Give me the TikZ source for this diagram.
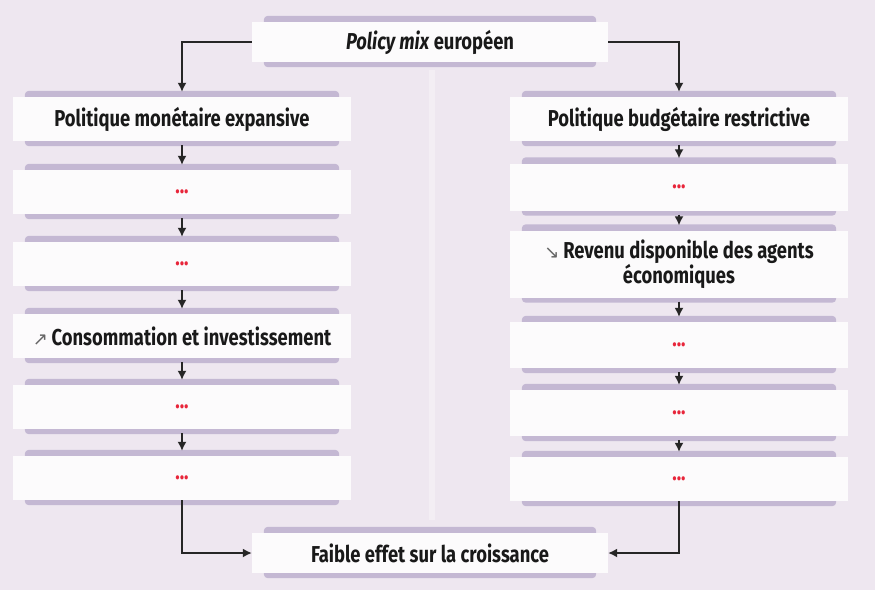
\documentclass[tikz,border=0pt]{standalone}
\usepackage{fontspec}
\setmainfont{Fira Sans}[FakeStretch=0.8]
\newfontfamily\arrowfont{DejaVu Sans}
\usetikzlibrary{calc,backgrounds,arrows.meta}
\definecolor{bgc}{HTML}{EEE7F0}
\definecolor{stripc}{HTML}{C4B8D3}
\definecolor{dotc}{HTML}{E8253A}
\definecolor{boxc}{HTML}{FCFBFC}
\tikzset{
	% white boxes of the chart, a purple strip is drawn behind each of them
	flow box/.style={fill=boxc,minimum width=338pt,minimum height=44pt,inner sep=2pt,align=center,
		font=\fontsize{23}{25}\selectfont\bfseries,text=black!90},
	wide box/.style={flow box,minimum width=356pt,minimum height=40pt},
	flow arrow/.style={draw=black!85,line width=1.5pt,-{Latex[length=9pt,width=9pt]},shorten >=5pt}
}
\newcommand{\etc}{\textcolor{dotc}{...}}
\newcommand{\up}{{\arrowfont\mdseries\fontsize{18}{18}\selectfont\color{black!60}↗}}
\newcommand{\down}{{\arrowfont\mdseries\fontsize{18}{18}\selectfont\color{black!60}↘}}

\begin{document}
\begin{tikzpicture}[x=1pt,y=-1pt]
	\useasboundingbox (0,0) rectangle (875,590);
	
	% top and bottom boxes
	\node(top)[wide box] at (430,42) {\textit{Policy mix} européen};
	\node(bot)[wide box] at (430,553) {Faible effet sur la croissance};
	
	% left column
	\node(l1)[flow box] at (182,119) {Politique monétaire expansive};
	\node(l2)[flow box] at (182,192) {\etc};
	\node(l3)[flow box] at (182,264) {\etc};
	\node(l4)[flow box] at (182,336) {\up\,Consommation et investissement};
	\node(l5)[flow box] at (182,407) {\etc};
	\node(l6)[flow box] at (182,478) {\etc};
	
	% right column
	\node(r1)[flow box] at (679,119) {Politique budgétaire restrictive};
	\node(r2)[flow box,minimum height=47pt] at (679,187) {\etc};
	\node(r3)[flow box,minimum height=67pt] at (679,264) {\down\,Revenu disponible des agents\\économiques};
	\node(r4)[flow box,minimum height=46pt] at (679,345) {\etc};
	\node(r5)[flow box,minimum height=46pt] at (679,413) {\etc};
	\node(r6)[flow box] at (679,479) {\etc};
	
	% connectors
	\draw[flow arrow] (top.west) -| (l1.north);
	\draw[flow arrow] (top.east) -| (r1.north);
	\foreach \a/\b in {l1/l2,l2/l3,l3/l4,l4/l5,l5/l6,r1/r2,r2/r3,r3/r4,r4/r5,r5/r6}
		\draw[flow arrow,shorten <=4pt] (\a.south) -- (\b.north);
	\draw[flow arrow,shorten >=0pt] (l6.south) |- (bot.west);
	\draw[flow arrow,shorten >=0pt] (r6.south) |- (bot.east);
	
	\begin{pgfonlayer}{background}
		\fill[bgc] (0,0) rectangle (875,590);
		\fill[white,opacity=0.3] (429,70) rectangle (435,520);
		\foreach \n in {top,bot,l1,l2,l3,l4,l5,l6,r1,r2,r3,r4,r5,r6}
			\fill[stripc,rounded corners=4pt] ($(\n.north west)+(12,-6)$) rectangle ($(\n.south east)+(-12,5)$);
	\end{pgfonlayer}
\end{tikzpicture}
\end{document}
